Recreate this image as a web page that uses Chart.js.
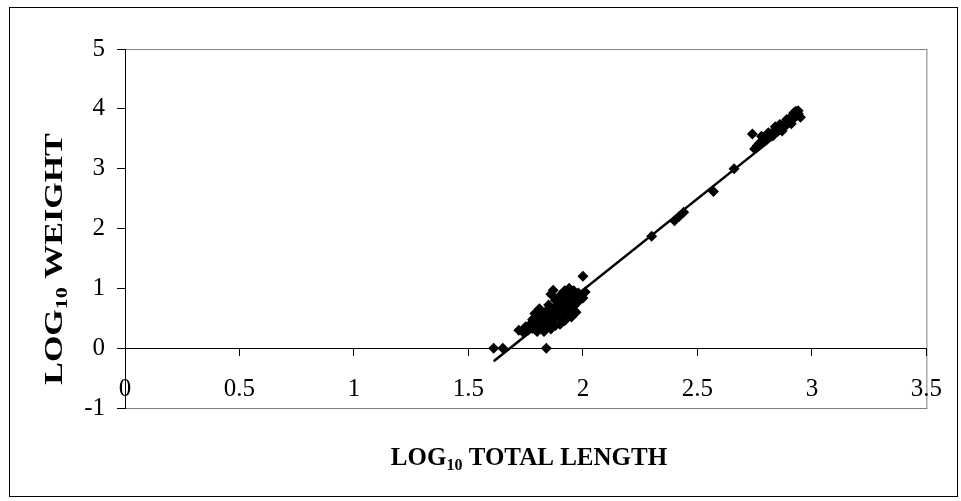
<!DOCTYPE html>
<html>
<head>
<meta charset="utf-8">
<script src="https://cdn.jsdelivr.net/npm/chart.js@4/dist/chart.umd.min.js"></script>
<style>
  html, body { margin: 0; background: #fff; }
  #wrap { width: 961px; height: 501px; }
</style>
</head>
<body>
<div id="wrap"><canvas id="chart" width="961" height="501"></canvas></div>
<script>
// log10 total length (x) and log10 weight (y)
const lengthLog = [
  1.61, 1.65, 1.84,
  1.72, 1.74, 1.75, 1.76, 1.77, 1.78, 1.78, 1.79, 1.80, 1.80, 1.81, 1.81, 1.82, 1.82,
  1.83, 1.83, 1.84, 1.84, 1.85, 1.85, 1.86, 1.86, 1.86, 1.87, 1.87, 1.87, 1.88, 1.88,
  1.88, 1.89, 1.89, 1.90, 1.90, 1.90, 1.91, 1.91, 1.92, 1.92, 1.92, 1.93, 1.93, 1.94,
  1.94, 1.95, 1.95, 1.95, 1.96, 1.96, 1.97, 1.97, 1.98, 1.98, 1.99, 2.00, 2.01, 2.00,
  2.30, 2.40, 2.42, 2.44, 2.57, 2.66, 2.74,
  2.75, 2.76, 2.77, 2.78, 2.79, 2.80, 2.80, 2.81, 2.82, 2.83, 2.83, 2.84, 2.85, 2.85,
  2.86, 2.87, 2.87, 2.88, 2.88, 2.89, 2.90, 2.90, 2.91, 2.92, 2.93, 2.93, 2.94, 2.95,
  2.78, 2.81, 2.84, 2.86, 2.89, 2.92, 2.94
];
const weightLog = [
  0.00, 0.00, 0.00,
  0.30, 0.26, 0.36, 0.30, 0.40, 0.33, 0.48, 0.58, 0.42, 0.28, 0.66, 0.50, 0.36, 0.58,
  0.45, 0.28, 0.62, 0.52, 0.72, 0.40, 0.90, 0.58, 0.32, 0.97, 0.66, 0.48, 0.80, 0.56,
  0.38, 0.72, 0.62, 0.88, 0.50, 0.40, 0.78, 0.66, 0.96, 0.56, 0.46, 0.86, 0.72, 1.00,
  0.62, 0.90, 0.78, 0.52, 0.96, 0.70, 0.86, 0.60, 0.92, 0.78, 0.88, 0.84, 0.94, 1.20,
  1.87, 2.13, 2.20, 2.27, 2.62, 3.00, 3.58,
  3.33, 3.38, 3.42, 3.46, 3.50, 3.48, 3.55, 3.52, 3.58, 3.61, 3.55, 3.64, 3.69, 3.62,
  3.66, 3.63, 3.72, 3.70, 3.76, 3.74, 3.83, 3.78, 3.75, 3.85, 3.96, 3.90, 3.92, 3.86,
  3.54, 3.60, 3.70, 3.74, 3.82, 3.93, 3.97
];
// fitted line, end points
const trendX = [1.61, 2.95];
const trendY = [-0.22, 3.87];

const xTicks = [0, 0.5, 1, 1.5, 2, 2.5, 3, 3.5];
const xTickLabels = ['0', '0.5', '1', '1.5', '2', '2.5', '3', '3.5'];
const yTicks = [-1, 0, 1, 2, 3, 4, 5];
const yTickLabels = ['-1', '0', '1', '2', '3', '4', '5'];

const xTitle = ['LOG', '10', ' TOTAL LENGTH'];
const yTitle = ['LOG', '10', ' WEIGHT'];

const serif = '"Liberation Serif", "Times New Roman", serif';

function drawTitle(ctx, parts, cx, cy, angle, size, squash) {
  const big = 'bold ' + size + 'px ' + serif;
  const small = 'bold ' + Math.round(size * 0.64) + 'px ' + serif;
  ctx.save();
  ctx.translate(cx, cy);
  ctx.rotate(angle);
  ctx.scale(1, squash);
  let total = 0;
  parts.forEach((p, i) => {
    ctx.font = i === 1 ? small : big;
    total += ctx.measureText(p).width;
  });
  let x = -total / 2;
  ctx.fillStyle = '#000';
  ctx.textBaseline = 'alphabetic';
  parts.forEach((p, i) => {
    ctx.font = i === 1 ? small : big;
    ctx.fillText(p, x, i === 1 ? size * 0.2 : 0);
    x += ctx.measureText(p).width;
  });
  ctx.restore();
}

const frame = {
  id: 'frame',
  beforeDraw(chart) {
    const { ctx, chartArea: a } = chart;
    ctx.save();
    ctx.fillStyle = '#fff';
    ctx.fillRect(0, 0, chart.width, chart.height);
    ctx.strokeStyle = '#000';
    ctx.lineWidth = 1;
    ctx.strokeRect(9.5, 7.5, 948, 489);
    ctx.strokeStyle = '#808080';
    ctx.strokeRect(a.left + 0.5, a.top + 0.5, a.right - a.left, a.bottom - a.top);
    ctx.restore();
  },
  afterDraw(chart) {
    const ctx = chart.ctx;
    drawTitle(ctx, xTitle, 529, 465, 0, 25, 1);
    drawTitle(ctx, yTitle, 62, 259, -Math.PI / 2, 34, 0.76);
  }
};

const points = lengthLog.map((x, i) => ({ x: x, y: weightLog[i] }));
const trend = trendX.map((x, i) => ({ x: x, y: trendY[i] }));

new Chart(document.getElementById('chart'), {
  type: 'scatter',
  data: {
    datasets: [
      {
        data: trend,
        showLine: true,
        borderColor: '#000',
        borderWidth: 2.5,
        pointRadius: 0,
        fill: false
      },
      {
        data: points,
        pointStyle: 'rectRot',
        pointRadius: 5.5,
        backgroundColor: '#000',
        borderColor: '#000',
        borderWidth: 0
      }
    ]
  },
  options: {
    responsive: false,
    animation: false,
    layout: { padding: { left: 9, top: 49, right: 29, bottom: 93 } },
    plugins: { legend: { display: false }, tooltip: { enabled: false } },
    scales: {
      x: {
        type: 'linear',
        position: { y: 0 },
        min: 0,
        max: 3.5,
        afterBuildTicks: s => { s.ticks = xTicks.map(v => ({ value: v })); },
        grid: { drawOnChartArea: false, drawTicks: true, tickLength: 7, color: '#000' },
        border: { display: true, color: '#000', width: 1 },
        ticks: {
          color: '#000', padding: 19, maxRotation: 0,
          font: { family: serif, size: 25 },
          callback: (v, i) => xTickLabels[i]
        }
      },
      y: {
        type: 'linear',
        position: 'left',
        min: -1,
        max: 5,
        afterBuildTicks: s => { s.ticks = yTicks.map(v => ({ value: v })); },
        afterFit: s => { s.width = 116; },
        grid: { drawOnChartArea: false, drawTicks: true, tickLength: 8, color: '#000' },
        border: { display: true, color: '#000', width: 1 },
        ticks: {
          color: '#000', padding: 12,
          font: { family: serif, size: 25 },
          callback: (v, i) => yTickLabels[i]
        }
      }
    }
  },
  plugins: [frame]
});
</script>
</body>
</html>
